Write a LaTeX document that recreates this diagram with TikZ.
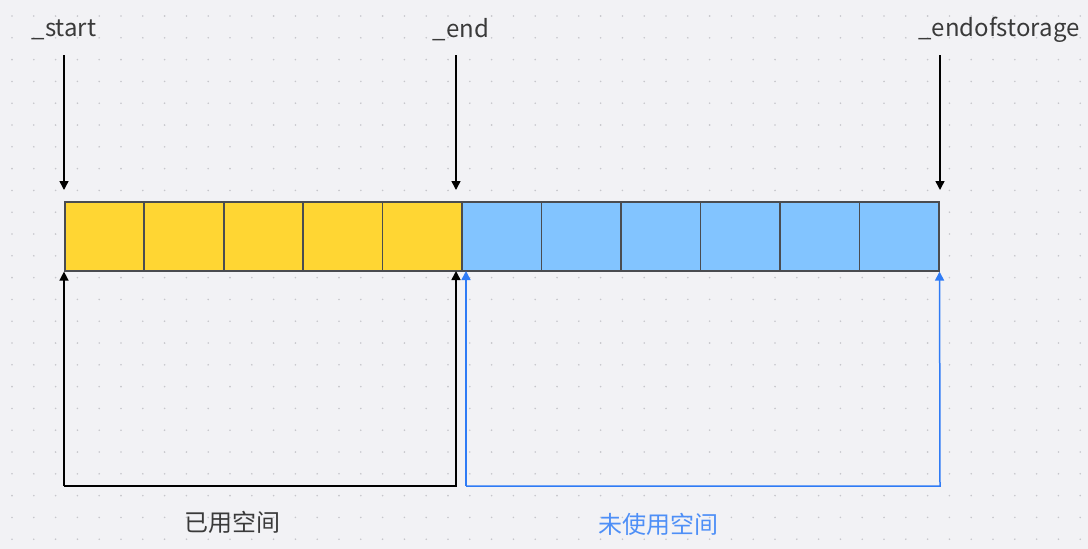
\documentclass[tikz,border=0pt]{standalone}
\usepackage{fontspec}
\setmainfont{Noto Sans CJK SC}
\usetikzlibrary{arrows.meta, calc}
\definecolor{bgc}{HTML}{F2F2F5}
\definecolor{dotc}{HTML}{C6C6CB}
\definecolor{usedc}{HTML}{FFD633}
\definecolor{freec}{HTML}{82C4FF}
\definecolor{cellb}{HTML}{4A4C50}
\definecolor{linec}{HTML}{2F7BF5}
\definecolor{txtc}{HTML}{3A3A3A}

\begin{document}
\begin{tikzpicture}[x=1pt, y=-1pt,
  ptr/.style={font=\fontsize{24}{28}\selectfont, text=txtc, inner sep=0pt},
  captxt/.style={font=\fontsize{24}{28}\selectfont, inner sep=0pt},
  cell/.style={draw=cellb, line width=1.6pt, minimum width=79.45pt, minimum height=69pt,
               inner sep=0pt, anchor=north west},
  used/.style={cell, fill=usedc},
  free/.style={cell, fill=freec},
  arr/.style={line width=1.5pt, -{Triangle[length=9pt, width=9pt]}}]

\fill[bgc] (0,0) rectangle (1088,549);
\foreach \i in {0,...,49}
  \foreach \j in {0,...,24}
    \fill[dotc] (12+\i*21.8, 16+\j*21.8) circle (0.9pt);

% the buffer
\foreach \k in {1,...,11} {
  \ifnum\k<6 \def\kind{used}\else\def\kind{free}\fi
  \node[\kind] (c\k) at (64+\k*79.45-79.45, 201) {};
}

% pointers
\node[ptr] (start) at (64, 30) {\_start};
\node[ptr] (end) at (461, 30) {\_end};
\node[ptr] (eos) at (999, 30) {\_endofstorage};
\coordinate (startT) at (64, 55);
\coordinate (startB) at (64, 190);
\coordinate (endT) at (456, 55);
\coordinate (endB) at (456, 190);
\coordinate (eosT) at (940, 55);
\coordinate (eosB) at (940, 190);
\draw[arr] (startT) -- (startB);
\draw[arr] (endT) -- (endB);
\draw[arr] (eosT) -- (eosB);

% used / unused ranges
\coordinate (u1) at (64, 486);
\coordinate (u2) at (456, 486);
\coordinate (f1) at (466, 486);
\coordinate (f2) at (940, 486);
\draw[arr] (u1) -- (c1.south west);
\draw[arr] (u1) -- (u2) -- (456, 271);
\draw[arr, linec] (f1) -- (466, 271);
\draw[arr, linec] (f1) -- (f2) -- (c11.south east);

\node[captxt, text=txtc] (usedtxt) at (232, 522) {已用空间};
\node[captxt, text=linec!85!white] (freetxt) at (658, 524) {未使用空间};
\end{tikzpicture}
\end{document}
